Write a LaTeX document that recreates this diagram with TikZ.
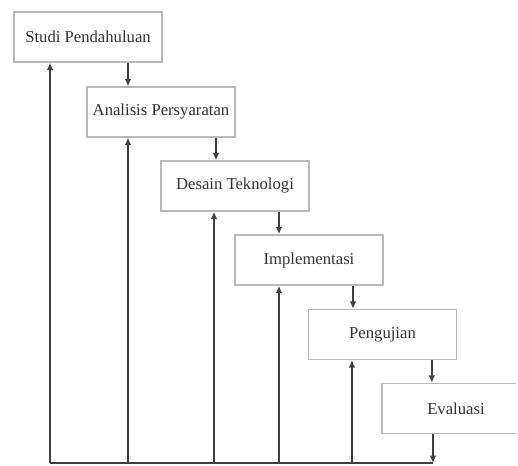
\documentclass[tikz,border=0pt]{standalone}
\usepackage{fontspec}
\setmainfont{Liberation Serif}
\usetikzlibrary{arrows.meta}
\begin{document}
\begin{tikzpicture}[x=0.75pt,y=-0.75pt,%
% common options for the stages:
stage/.style = {draw=gray!55, line width=1.1pt, fill=white, text=black!80,
            minimum width=111pt, minimum height=37.5pt, inner sep=0,
            font=\fontsize{12.5}{14}\selectfont},
% common options for the connectors:
flow/.style = {draw=black!75, line width=1.5pt},
arr/.style = {flow, -{Latex[length=5.5pt,width=5pt]}}]
\useasboundingbox (0,0) rectangle (518,466);
\clip (0,0) rectangle (516,466);
\node[stage] (s1) at (88,37) {Studi Pendahuluan};
\node[stage] (s2) at (161,112) {Analisis Persyaratan};
\node[stage] (s3) at (235,186) {Desain Teknologi};
\node[stage] (s4) at (309,260) {Implementasi};
\node[stage] (s5) at (382.5,334.5) {Pengujian};
\node[stage] (s6) at (456,408.5) {Evaluasi};
\coordinate (bl) at (50,463);
% downward steps
\draw[arr] ([xshift=30pt]s1.south) -- ([xshift=30pt]s1.south |- s2.north);
\draw[arr] ([xshift=41.25pt]s2.south) -- ([xshift=41.25pt]s2.south |- s3.north);
\draw[arr] ([xshift=33pt]s3.south) -- ([xshift=33pt]s3.south |- s4.north);
\draw[arr] ([xshift=33pt]s4.south) -- ([xshift=33pt]s4.south |- s5.north);
\draw[arr] ([xshift=37pt]s5.south) -- ([xshift=37pt]s5.south |- s6.north);
\draw[arr] ([xshift=-17.25pt]s6.south) -- ([xshift=-17.25pt]s6.south |- bl);
% feedback to every stage
\draw[flow] (bl) -- ([xshift=-17.25pt]s6.south |- bl);
\draw[arr] (bl) -- (bl |- s1.south);
\draw[arr] ([xshift=-24.75pt]s2.south |- bl) -- ([xshift=-24.75pt]s2.south);
\draw[arr] ([xshift=-15.75pt]s3.south |- bl) -- ([xshift=-15.75pt]s3.south);
\draw[arr] ([xshift=-22.5pt]s4.south |- bl) -- ([xshift=-22.5pt]s4.south);
\draw[arr] ([xshift=-22.9pt]s5.south |- bl) -- ([xshift=-22.9pt]s5.south);
\end{tikzpicture}
\end{document}
